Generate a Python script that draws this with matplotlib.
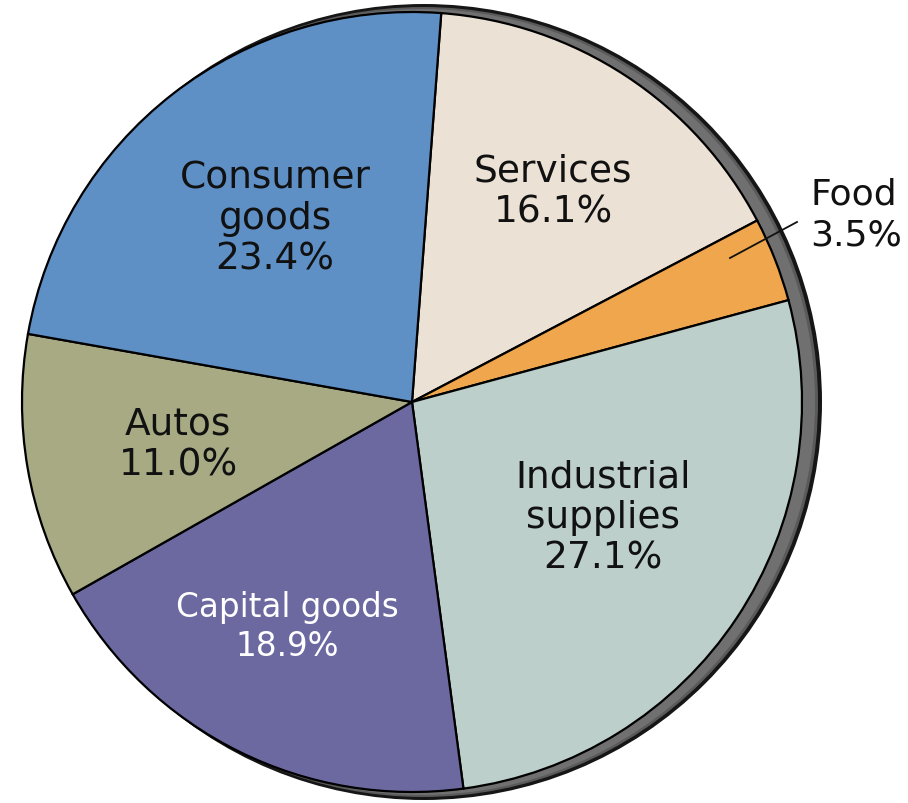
import matplotlib
matplotlib.use('Agg')
import matplotlib.pyplot as plt
from matplotlib.patches import Circle

# export shares by category, clockwise from the top
names = ['Services', 'Food', 'Industrial\nsupplies', 'Capital goods', 'Autos', 'Consumer\ngoods']
shares = [16.1, 3.5, 27.1, 18.9, 11.0, 23.4]
colors = ['#ece1d5', '#efa64c', '#bccfca', '#6c69a1', '#a8aa84', '#5e90c6']

W, H = 908, 804
cx, cy, r = 412, H - 403, 390

fig = plt.figure(figsize=(W / 100, H / 100), dpi=100)
ax = fig.add_axes([0, 0, 1, 1])

# disc edge showing on the right
ax.add_patch(Circle((cx + 12, cy), r + 8, fc='#161616', ec='none', zorder=0))
ax.add_patch(Circle((cx + 11, cy), r + 5, fc='#5a5a5a', ec='none', zorder=0))
ax.add_patch(Circle((cx + 10, cy), r + 3, fc='#707070', ec='none', zorder=0))

wedges, _ = ax.pie(shares, colors=colors, center=(cx, cy), radius=r,
                   startangle=85.7, counterclock=False, frame=True,
                   wedgeprops=dict(edgecolor='black', linewidth=1.6))

# label positions in pixels from the top-left
label_pos = [(553, 192), (810, 215), (603, 518), (287, 627), (178, 445), (275, 219)]
for name, v, (x, y) in zip(names, shares, label_pos):
    txt = f'{name}\n{v:.1f}%'
    if name == 'Food':
        ax.text(x, H - y, txt, ha='left', va='center', fontsize=26, color='#111111',
                linespacing=1.25)
    elif name == 'Capital goods':
        ax.text(x, H - y, txt, ha='center', va='center', fontsize=23.5, color='white',
                linespacing=1.25)
    else:
        ax.text(x, H - y, txt, ha='center', va='center', fontsize=27, color='#111111',
                linespacing=1.15)

# leader line for the food slice
ax.plot([730, 797], [H - 259, H - 223], color='#111111', lw=1.3)

ax.set_xlim(0, W)
ax.set_ylim(0, H)
ax.set_aspect('equal')
ax.axis('off')

fig.savefig('out.png', dpi=100, facecolor='white')
